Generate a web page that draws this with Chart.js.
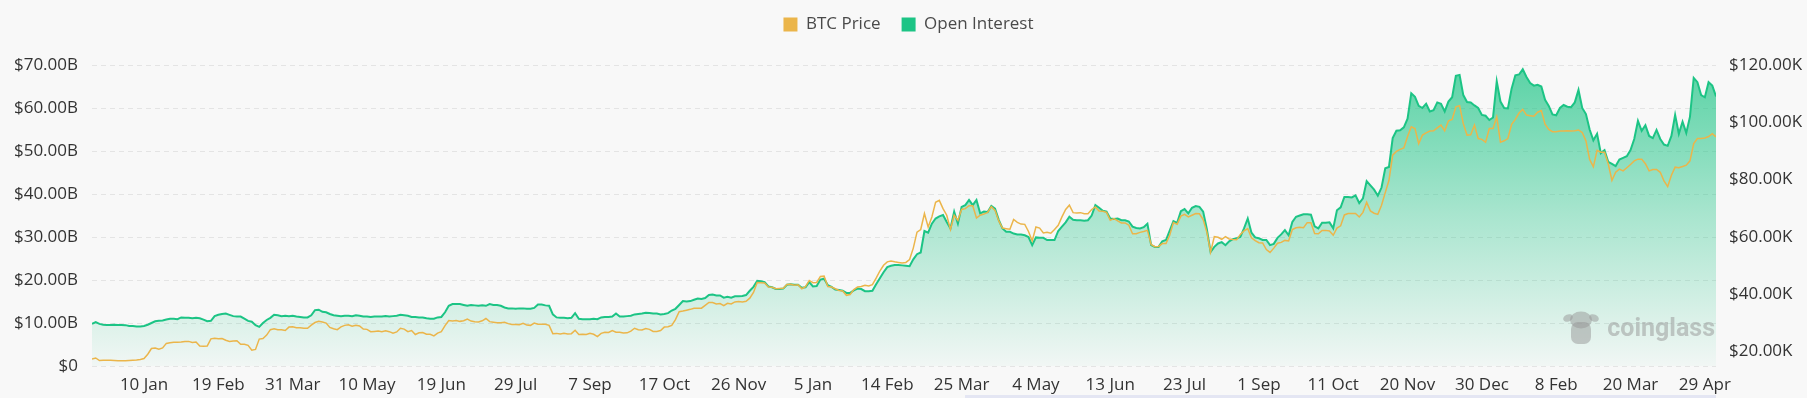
<!DOCTYPE html>
<html>
<head>
<meta charset="utf-8">
<script src="https://cdn.jsdelivr.net/npm/chart.js@4.4.1/dist/chart.umd.min.js"></script>
<style>
html,body{margin:0;padding:0;background:#F8F8F8;}
canvas{display:block;}
</style>
</head>
<body>
<canvas id="c" width="1807" height="398"></canvas>
<script>
// x positions are days counted from 10 Jan 2023; one sample every 2 days from 13 Dec 2022
const startDay = -28;
const stepDays = 2;
const endDay = 846;
const tickLabels = ['10 Jan','19 Feb','31 Mar','10 May','19 Jun','29 Jul','7 Sep','17 Oct','26 Nov','5 Jan','14 Feb','25 Mar','4 May','13 Jun','23 Jul','1 Sep','11 Oct','20 Nov','30 Dec','8 Feb','20 Mar','29 Apr'];
const seriesNames = ['BTC Price', 'Open Interest'];

// BTC price, thousands of USD (right axis)
const btcPriceK = [
17.2,17.6,16.7,16.8,16.8,16.8,16.7,16.6,16.6,16.6,
16.7,16.8,16.9,17.1,17.4,18.9,20.9,21.1,20.7,21.1,
22.7,22.9,23.1,23.1,23.2,23.4,23.4,23.0,23.2,21.8,
21.7,21.8,24.3,24.5,24.3,24.4,23.8,23.4,23.5,23.6,
22.4,22.4,22.0,20.3,20.6,24.2,24.4,25.6,27.5,27.8,
27.5,27.5,27.2,28.4,28.5,28.2,28.2,28.0,28.0,29.1,
30.0,30.4,30.2,29.8,28.3,27.8,27.5,28.5,29.0,29.2,
28.7,29.0,28.8,27.7,27.6,26.8,26.9,27.0,26.8,27.1,
26.8,26.3,26.7,28.0,27.7,26.8,27.2,25.8,26.4,26.5,
25.9,25.9,25.3,26.3,26.8,28.9,30.7,30.5,30.7,30.4,
30.6,31.2,30.5,30.3,30.2,30.6,31.4,30.3,30.1,29.9,
29.9,30.1,29.6,29.3,29.3,29.2,29.7,29.1,29.0,29.8,
29.4,29.4,29.4,29.0,26.1,26.2,26.0,26.2,26.0,26.1,
27.3,25.8,25.9,25.8,26.2,25.9,25.1,26.2,26.6,26.5,
27.2,26.6,26.6,26.3,26.4,27.0,28.0,27.5,27.4,27.9,
27.6,26.9,26.9,27.2,28.4,28.5,29.0,31.0,33.8,34.0,
34.3,34.6,35.0,35.0,35.0,36.0,37.0,37.0,36.5,36.6,
35.9,36.7,36.5,37.2,37.3,37.2,37.4,38.5,40.5,44.0,
43.9,43.8,42.4,42.3,41.8,41.9,42.0,43.3,43.4,43.0,
43.2,41.8,42.5,44.7,43.9,44.0,46.1,46.2,42.6,42.4,
41.8,41.2,41.0,39.5,39.8,41.5,42.4,42.6,43.0,42.8,
43.2,45.5,48.0,50.0,51.2,51.5,51.2,51.0,50.8,51.0,
52.0,56.0,61.6,62.5,68.1,63.4,66.9,72.0,72.7,69.8,
67.5,62.5,67.5,65.7,69.5,69.8,70.8,70.8,66.5,67.5,
67.9,68.5,70.5,69.2,65.5,63.0,62.8,62.6,66.0,65.0,
64.4,64.3,61.8,58.5,63.4,63.0,61.3,61.5,61.2,62.5,
64.0,66.9,69.5,71.0,68.4,68.3,68.4,68.0,68.0,69.5,
70.4,69.0,68.9,68.5,65.7,66.3,65.5,64.8,64.8,64.0,
61.0,61.0,61.5,61.8,62.2,57.3,56.5,56.6,57.6,57.6,
60.5,64.9,64.3,67.2,67.8,66.9,67.5,68.1,68.0,66.0,
61.5,54.6,60.0,59.8,59.1,60.0,59.2,59.0,58.9,60.8,
62.0,62.8,59.6,58.6,57.9,57.8,55.5,54.5,56.0,57.7,
58.0,58.7,58.5,62.5,63.1,63.3,63.1,64.9,64.9,61.1,
61.0,62.2,62.2,62.0,60.5,63.0,63.8,67.6,68.1,68.1,
68.1,66.9,68.5,72.0,69.0,68.2,67.8,71.0,75.4,79.7,
88.5,89.8,90.5,91.0,95.0,98.4,97.8,92.5,95.5,96.3,
96.9,97.0,98.0,99.0,97.0,100.5,101.0,105.4,105.8,99.5,
95.5,95.6,99.0,94.3,94.0,93.0,97.8,97.8,101.9,93.0,
93.5,94.3,99.3,101.0,103.2,104.5,102.5,102.3,102.1,103.5,
104.1,99.3,97.5,96.7,96.7,96.9,96.9,97.0,96.9,97.0,
97.3,96.4,93.5,87.0,84.4,90.2,89.5,89.5,85.5,79.7,
82.5,83.6,83.0,84.1,85.2,86.5,87.1,87.1,85.5,83.0,
83.5,83.5,82.5,79.5,77.5,81.5,84.3,84.1,84.5,85.0,
86.5,92.5,94.3,94.3,94.5,95.0,96.0,94.9
];

// Open interest, billions of USD (left axis)
const openInterestB = [
9.8,10.2,9.8,9.6,9.55,9.55,9.6,9.55,9.55,9.5,
9.3,9.3,9.2,9.2,9.3,9.6,10.0,10.4,10.5,10.6,
10.8,11.0,11.0,10.9,11.3,11.2,11.2,11.1,11.2,11.1,
10.8,10.4,10.5,11.6,11.9,12.1,12.2,11.9,11.6,11.5,
11.5,11.0,10.5,10.3,9.5,9.1,10.0,10.7,11.2,11.9,
11.8,11.6,11.7,11.6,11.7,11.5,11.4,11.3,11.3,11.8,
13.0,13.1,12.6,12.5,12.1,11.8,11.7,11.6,11.7,11.7,
11.6,11.8,11.7,11.5,11.5,11.4,11.5,11.5,11.5,11.6,
11.5,11.6,11.7,11.9,11.8,11.7,11.4,11.4,11.3,11.3,
11.1,11.0,11.0,11.3,11.4,12.5,14.0,14.4,14.4,14.4,
14.2,14.0,14.2,14.1,14.0,14.1,14.0,14.4,14.2,14.2,
14.0,13.6,13.4,13.4,13.3,13.4,13.4,13.3,13.3,13.5,
14.3,14.3,14.1,14.0,12.0,11.3,11.2,11.2,11.1,11.2,
12.3,11.0,10.9,10.9,10.9,11.0,10.9,11.3,11.4,11.4,
11.5,12.2,11.5,11.5,11.6,11.7,12.0,12.1,12.2,12.4,
12.3,12.2,12.2,12.0,12.1,12.3,12.9,13.3,14.2,15.1,
15.0,15.1,15.4,15.7,15.6,15.8,16.5,16.6,16.4,16.4,
15.9,16.1,15.9,16.2,16.2,16.3,16.5,17.5,18.4,19.8,
19.7,19.5,18.5,18.3,17.9,17.9,18.0,18.9,19.0,18.9,
18.9,18.2,18.3,19.5,18.5,18.6,20.1,20.3,18.8,18.4,
17.8,17.7,17.5,17.0,17.0,17.6,18.0,17.9,17.4,17.4,
17.5,19.0,20.4,21.8,23.0,23.3,23.5,23.5,23.4,23.3,
23.2,24.8,26.0,26.4,31.4,31.0,33.1,34.3,34.8,35.1,
33.5,32.0,35.9,33.1,37.0,37.4,38.6,37.4,38.6,35.5,
35.9,35.8,37.2,36.6,34.0,32.0,31.2,31.2,30.8,30.6,
30.6,30.4,30.0,28.1,29.9,29.8,29.8,29.3,29.3,29.3,
31.4,32.4,33.4,34.7,34.0,33.9,33.9,33.8,33.9,35.0,
37.4,36.8,36.1,35.9,34.3,34.2,34.3,33.9,33.9,33.6,
32.4,32.1,32.0,32.3,33.1,28.1,27.7,27.7,29.0,29.3,
31.5,33.7,33.3,36.0,36.5,35.5,36.8,37.2,37.0,35.9,
31.8,26.5,27.7,28.5,28.8,28.1,29.0,29.5,29.7,30.0,
32.0,34.3,31.0,29.9,29.7,29.3,29.3,28.1,28.4,29.8,
30.6,31.6,30.4,33.5,34.7,35.0,35.3,35.3,35.2,32.5,
32.0,33.3,33.3,33.4,32.0,36.2,36.9,39.3,39.3,39.2,
39.7,37.9,39.0,43.0,42.0,41.0,39.6,41.5,46.0,46.3,
53.0,54.7,54.8,55.5,57.5,63.4,62.6,60.5,60.0,61.0,
59.2,59.5,61.3,61.0,59.2,61.5,62.5,67.5,67.7,63.0,
61.4,61.3,60.6,60.0,58.4,58.2,57.2,57.8,66.2,61.5,
60.0,59.9,64.5,67.6,67.8,69.0,67.2,65.8,65.2,65.4,
65.0,61.9,60.5,58.5,58.3,60.0,60.7,60.3,60.2,61.3,
64.2,60.0,58.6,55.0,52.5,54.0,49.5,50.2,47.5,47.0,
46.5,48.0,48.4,48.8,50.2,52.8,57.0,54.7,56.0,53.5,
53.0,54.9,52.8,51.5,51.2,53.5,58.4,54.0,56.8,54.2,
58.0,67.0,66.0,63.0,62.5,66.0,65.2,62.7
];

const dayOffsets = btcPriceK.map((_, i) => startDay + i * stepDays);

const ORANGE = '#EBB54A';
const GREEN = '#1CC485';
const legendColors = [ORANGE, GREEN];

Chart.defaults.font.family = "'Open Sans', 'Noto Sans', sans-serif";
Chart.defaults.font.size = 17;
Chart.defaults.color = '#333333';

const bgPlugin = {
  id: 'bgFill',
  beforeDraw(chart) {
    const c = chart.ctx;
    c.save();
    c.fillStyle = '#F8F8F8';
    c.fillRect(0, 0, chart.width, chart.height);
    c.restore();
  }
};

const legendSpace = {
  id: 'legendSpace',
  beforeInit(chart) {
    const lg = chart.legend;
    if (!lg) return;
    const fit = lg.fit;
    lg.fit = function () { fit.call(this); this.height = 70; };
  }
};

const watermark = {
  id: 'watermark',
  afterDraw(chart) {
    const c = chart.ctx;
    const a = chart.chartArea;
    c.save();
    c.fillStyle = 'rgba(150,150,150,0.5)';
    c.beginPath(); c.ellipse(a.right - 148, 318, 5, 3.5, -0.4, 0, Math.PI * 2); c.fill();
    c.beginPath(); c.ellipse(a.right - 122, 318, 5, 3.5, 0.4, 0, Math.PI * 2); c.fill();
    c.beginPath(); c.ellipse(a.right - 135, 320, 11, 8.5, 0, 0, Math.PI * 2); c.fill();
    c.beginPath(); c.roundRect(a.right - 145, 322, 20, 22, 7); c.fill();
    c.font = "bold 25px Roboto, 'Open Sans', sans-serif";
    c.textBaseline = 'alphabetic';
    c.textAlign = 'right';
    c.fillText('coinglass', a.right - 1, 336);
    c.fillStyle = '#E4E6F3';
    c.fillRect(965, 395, a.right - 965, 3);
    c.restore();
  }
};

// rebuild the ticks so they sit exactly on multiples of the step inside [min, max]
const stepTicks = (step) => (scale) => {
  const out = [];
  const first = Math.ceil(scale.min / step - 1e-9);
  const last = Math.floor(scale.max / step + 1e-9);
  for (let k = first; k <= last; k++) out.push({ value: k * step });
  scale.ticks = out;
};

const ctx = document.getElementById('c').getContext('2d');
new Chart(ctx, {
  type: 'line',
  data: {
    datasets: [
      {
        label: seriesNames[0],
        data: btcPriceK.map((v, i) => ({ x: dayOffsets[i], y: v })),
        yAxisID: 'yR',
        borderColor: ORANGE,
        backgroundColor: ORANGE,
        borderWidth: 1.5,
        pointRadius: 0,
        tension: 0,
        fill: false
      },
      {
        label: seriesNames[1],
        data: openInterestB.map((v, i) => ({ x: dayOffsets[i], y: v })),
        yAxisID: 'yL',
        borderColor: GREEN,
        borderWidth: 2,
        pointRadius: 0,
        tension: 0,
        fill: 'origin',
        backgroundColor: (context) => {
          const { chart } = context;
          const area = chart.chartArea;
          if (!area) return 'rgba(28,196,133,0.3)';
          const g = chart.ctx.createLinearGradient(0, area.top, 0, area.bottom);
          g.addColorStop(0, 'rgba(28,196,133,0.72)');
          g.addColorStop(0.5, 'rgba(28,196,133,0.36)');
          g.addColorStop(1, 'rgba(28,196,133,0.03)');
          return g;
        }
      }
    ]
  },
  options: {
    responsive: false,
    animation: false,
    devicePixelRatio: 1,
    layout: { padding: { top: -5, left: 10, right: 0, bottom: 0 } },
    interaction: { mode: 'index', intersect: false },
    plugins: {
      tooltip: { enabled: false },
      legend: {
        position: 'top',
        align: 'center',
        labels: {
          boxWidth: 14,
          boxHeight: 14,
          padding: 21,
          color: '#4A4A4A',
          font: { size: 17 },
          generateLabels(chart) {
            const items = Chart.defaults.plugins.legend.labels.generateLabels(chart);
            items.forEach((it, i) => {
              it.fillStyle = legendColors[i];
              it.strokeStyle = legendColors[i];
              it.lineWidth = 0;
            });
            return items;
          }
        }
      }
    },
    scales: {
      x: {
        type: 'linear',
        min: startDay,
        max: endDay,
        grid: { display: false, drawTicks: false },
        border: { display: false },
        ticks: {
          stepSize: 40,
          autoSkip: false,
          maxRotation: 0,
          minRotation: 0,
          padding: 9,
          color: '#333333',
          callback: (v) => {
            const k = Math.round(v / 40);
            return tickLabels[k] !== undefined ? tickLabels[k] : '';
          }
        },
        afterBuildTicks: stepTicks(40),
        afterFit: (s) => { s.height = 32; }
      },
      yL: {
        type: 'linear',
        position: 'left',
        min: 0,
        max: 70,
        grid: { color: '#E4E4E4', lineWidth: 1, drawTicks: false },
        border: { display: false, dash: [5, 4] },
        ticks: {
          stepSize: 10,
          padding: 14,
          color: '#333333',
          callback: (v) => v === 0 ? '$0' : '$' + v.toFixed(2) + 'B'
        },
        afterFit: (s) => { s.width = 82; }
      },
      yR: {
        type: 'linear',
        position: 'right',
        min: 14.8,
        max: 120,
        grid: { display: false, drawTicks: false },
        border: { display: false },
        ticks: {
          stepSize: 20,
          autoSkip: false,
          padding: 13,
          color: '#333333',
          callback: (v) => '$' + v.toFixed(2) + 'K'
        },
        afterBuildTicks: stepTicks(20),
        afterFit: (s) => { s.width = 91; }
      }
    }
  },
  plugins: [bgPlugin, legendSpace, watermark]
});
</script>
</body>
</html>
